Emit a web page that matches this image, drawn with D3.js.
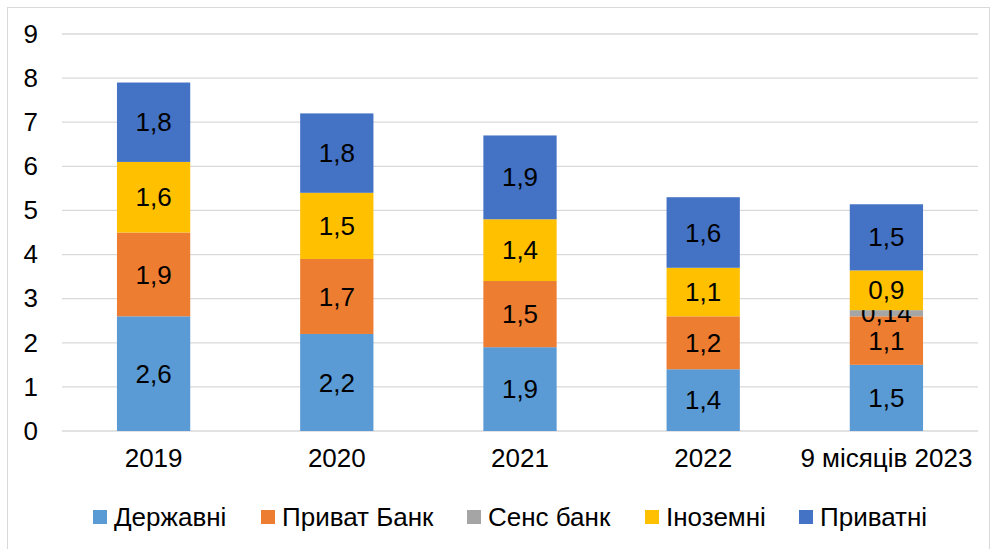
<!DOCTYPE html>
<html>
<head>
<meta charset="utf-8">
<script src="https://cdn.jsdelivr.net/npm/d3@7"></script>
<style>
  body { margin: 0; background: #fff; }
  svg { font-family: "Liberation Sans", Arial, sans-serif; }
</style>
</head>
<body>
<div id="container"></div>
<script>
/* DATA */
const years = ["2019", "2020", "2021", "2022", "9 місяців 2023"];
const seriesNames = ["Державні", "Приват Банк", "Сенс банк", "Іноземні", "Приватні"];
const derzhavni = [2.6, 2.2, 1.9, 1.4, 1.5];
const privatBank = [1.9, 1.7, 1.5, 1.2, 1.1];
const sensBank = [0, 0, 0, 0, 0.14];
const inozemni = [1.6, 1.5, 1.4, 1.1, 0.9];
const pryvatni = [1.8, 1.8, 1.9, 1.6, 1.5];
const yTicks = [0, 1, 2, 3, 4, 5, 6, 7, 8, 9];

const colors = ["#5b9bd5", "#ed7d31", "#a5a5a5", "#ffc000", "#4472c4"];

/* CONSTANTS */
const width = 992, height = 549;
const margin = {top: 34, bottom: 118, left: 62, right: 14};
const fontSize = 26;

const table = years.map((y, i) => ({
  year: y,
  "Державні": derzhavni[i],
  "Приват Банк": privatBank[i],
  "Сенс банк": sensBank[i],
  "Іноземні": inozemni[i],
  "Приватні": pryvatni[i]
}));

const stacked = d3.stack().keys(seriesNames)(table);

/* SCALES */
const xScale = d3.scaleBand()
  .domain(years)
  .range([margin.left, width - margin.right])
  .paddingInner(0.6)
  .paddingOuter(0.3);

const yScale = d3.scaleLinear()
  .domain([0, 9])
  .range([height - margin.bottom, margin.top]);

const color = d3.scaleOrdinal().domain(seriesNames).range(colors);

/* SVG */
const svg = d3.select("#container")
  .append("svg")
  .attr("width", width)
  .attr("height", height);

// chart border
svg.append("rect")
  .attr("x", 7.5).attr("y", 7.5)
  .attr("width", width - 10).attr("height", height)
  .attr("fill", "none")
  .attr("stroke", "#d9d9d9");

// gridlines
svg.append("g")
  .selectAll("line")
  .data(yTicks)
  .join("line")
  .attr("x1", margin.left)
  .attr("x2", width - margin.right)
  .attr("y1", d => yScale(d))
  .attr("y2", d => yScale(d))
  .attr("stroke", "#d9d9d9")
  .attr("stroke-width", 1.3);

// y axis
const yAxisGroup = svg.append("g")
  .attr("transform", `translate(${margin.left}, 0)`)
  .call(d3.axisLeft(yScale).tickValues(yTicks).tickSize(0).tickPadding(24));
yAxisGroup.select(".domain").remove();
yAxisGroup.selectAll("text")
  .attr("font-size", fontSize)
  .attr("fill", "#000")
  .attr("font-family", "Liberation Sans, Arial, sans-serif");

// x axis
const xAxisGroup = svg.append("g")
  .attr("transform", `translate(0, ${yScale(0)})`)
  .call(d3.axisBottom(xScale).tickSize(0).tickPadding(18));
xAxisGroup.select(".domain").remove();
xAxisGroup.selectAll("text")
  .attr("font-size", fontSize)
  .attr("fill", "#000")
  .attr("font-family", "Liberation Sans, Arial, sans-serif");

// bars
const layers = svg.append("g")
  .selectAll("g.layer")
  .data(stacked)
  .join("g")
  .attr("class", "layer")
  .attr("fill", d => color(d.key));

layers.selectAll("rect")
  .data(d => d.filter(p => p[1] - p[0] > 0))
  .join("rect")
  .attr("x", d => xScale(d.data.year))
  .attr("width", xScale.bandwidth())
  .attr("y", d => yScale(d[1]))
  .attr("height", d => yScale(d[0]) - yScale(d[1]));

// labels
const fmt = v => String(v).replace(".", ",");
layers.selectAll("text")
  .data(d => d.filter(p => p[1] - p[0] > 0))
  .join("text")
  .attr("x", d => xScale(d.data.year) + xScale.bandwidth() / 2)
  .attr("y", d => yScale((d[0] + d[1]) / 2))
  .attr("dy", "0.35em")
  .attr("text-anchor", "middle")
  .attr("font-size", fontSize)
  .attr("fill", "#000")
  .text(d => fmt(+(d[1] - d[0]).toFixed(2)));

// legend
const legendX = [93, 261, 467, 645, 799];
const legend = svg.append("g")
  .selectAll("g")
  .data(seriesNames)
  .join("g")
  .attr("transform", (d, i) => `translate(${legendX[i]}, 517)`);

legend.append("rect")
  .attr("x", 0).attr("y", -7)
  .attr("width", 14).attr("height", 14)
  .attr("fill", d => color(d));

legend.append("text")
  .attr("x", 21)
  .attr("dy", "0.35em")
  .attr("font-size", fontSize)
  .attr("fill", "#000")
  .text(d => d);
</script>
</body>
</html>
